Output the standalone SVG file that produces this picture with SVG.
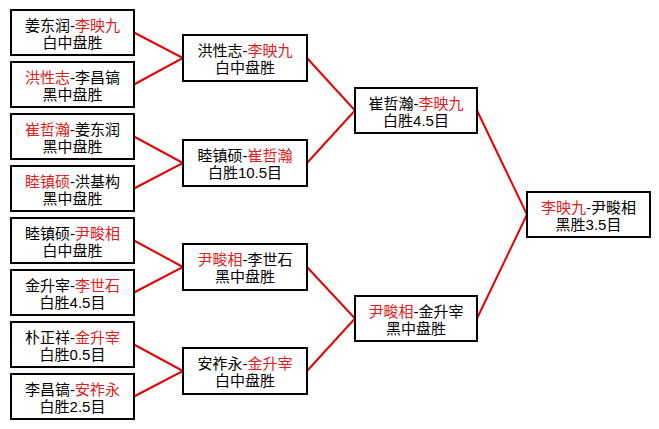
<svg xmlns="http://www.w3.org/2000/svg" width="659" height="429" viewBox="0 0 659 429">
<style>
.box{fill:#fff;stroke:#000;stroke-width:2}
.t{font-family:"Liberation Sans","Noto Sans CJK SC",sans-serif;font-size:15px;fill:#000;text-anchor:middle}
.r{fill:#e02020}
.c{fill:none;stroke:#e80000;stroke-width:2}
</style>
<rect width="659" height="429" fill="#fff"/>
<g id="connectors">
<polyline class="c" points="134,32.5 183,58 134,84.5"/>
<polyline class="c" points="134,136.5 183,163 134,188.5"/>
<polyline class="c" points="134,240.5 183,267 134,292.5"/>
<polyline class="c" points="134,344.5 183,371 134,396.5"/>
<polyline class="c" points="307,58 355,110.5 307,163"/>
<polyline class="c" points="307,267 355,318.5 307,371"/>
<polyline class="c" points="477,110.5 527,214.5 477,318.5"/>
</g>
<g id="n1"><rect class="box" x="11" y="10" width="123" height="45"/><text class="t" y="31"><tspan x="72.5">姜东润-<tspan class="r">李映九</tspan></tspan><tspan x="72.5" dy="17">白中盘胜</tspan></text></g>
<g id="n2"><rect class="box" x="11" y="62" width="123" height="45"/><text class="t" y="83"><tspan x="72.5"><tspan class="r">洪性志</tspan>-李昌镐</tspan><tspan x="72.5" dy="17">黑中盘胜</tspan></text></g>
<g id="n3"><rect class="box" x="11" y="114" width="123" height="45"/><text class="t" y="135"><tspan x="72.5"><tspan class="r">崔哲瀚</tspan>-姜东润</tspan><tspan x="72.5" dy="17">黑中盘胜</tspan></text></g>
<g id="n4"><rect class="box" x="11" y="166" width="123" height="45"/><text class="t" y="187"><tspan x="72.5"><tspan class="r">睦镇硕</tspan>-洪基构</tspan><tspan x="72.5" dy="17">黑中盘胜</tspan></text></g>
<g id="n5"><rect class="box" x="11" y="218" width="123" height="45"/><text class="t" y="239"><tspan x="72.5">睦镇硕-<tspan class="r">尹畯相</tspan></tspan><tspan x="72.5" dy="17">白中盘胜</tspan></text></g>
<g id="n6"><rect class="box" x="11" y="270" width="123" height="45"/><text class="t" y="291"><tspan x="72.5">金升宰-<tspan class="r">李世石</tspan></tspan><tspan x="72.5" dy="17">白胜4.5目</tspan></text></g>
<g id="n7"><rect class="box" x="11" y="322" width="123" height="45"/><text class="t" y="343"><tspan x="72.5">朴正祥-<tspan class="r">金升宰</tspan></tspan><tspan x="72.5" dy="17">白胜0.5目</tspan></text></g>
<g id="n8"><rect class="box" x="11" y="374" width="123" height="45"/><text class="t" y="395"><tspan x="72.5">李昌镐-<tspan class="r">安祚永</tspan></tspan><tspan x="72.5" dy="17">白胜2.5目</tspan></text></g>
<g id="m1"><rect class="box" x="183" y="35" width="124" height="46"/><text class="t" y="56"><tspan x="245">洪性志-<tspan class="r">李映九</tspan></tspan><tspan x="245" dy="17">白中盘胜</tspan></text></g>
<g id="m2"><rect class="box" x="183" y="140" width="124" height="46"/><text class="t" y="161"><tspan x="245">睦镇硕-<tspan class="r">崔哲瀚</tspan></tspan><tspan x="245" dy="17">白胜10.5目</tspan></text></g>
<g id="m3"><rect class="box" x="183" y="244" width="124" height="46"/><text class="t" y="265"><tspan x="245"><tspan class="r">尹畯相</tspan>-李世石</tspan><tspan x="245" dy="17">黑中盘胜</tspan></text></g>
<g id="m4"><rect class="box" x="183" y="348" width="124" height="46"/><text class="t" y="369"><tspan x="245">安祚永-<tspan class="r">金升宰</tspan></tspan><tspan x="245" dy="17">白中盘胜</tspan></text></g>
<g id="s1"><rect class="box" x="355" y="88" width="122" height="45"/><text class="t" y="109"><tspan x="416">崔哲瀚-<tspan class="r">李映九</tspan></tspan><tspan x="416" dy="17">白胜4.5目</tspan></text></g>
<g id="s2"><rect class="box" x="355" y="296" width="122" height="45"/><text class="t" y="317"><tspan x="416"><tspan class="r">尹畯相</tspan>-金升宰</tspan><tspan x="416" dy="17">黑中盘胜</tspan></text></g>
<g id="f1"><rect class="box" x="527" y="192" width="123" height="45"/><text class="t" y="213"><tspan x="588.5"><tspan class="r">李映九</tspan>-尹畯相</tspan><tspan x="588.5" dy="17">黑胜3.5目</tspan></text></g>
</svg>
